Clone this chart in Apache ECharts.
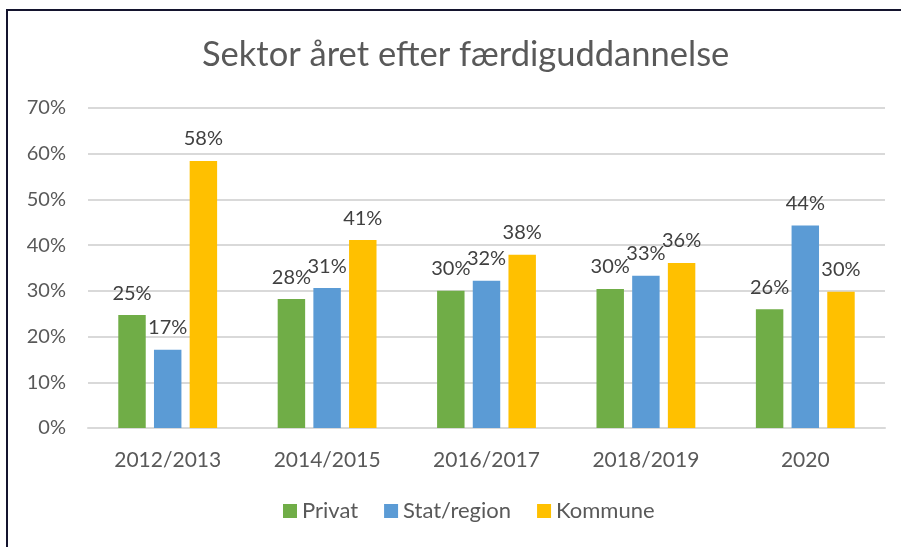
<!DOCTYPE html>
<html>
<head>
<meta charset="utf-8">
<script src="https://cdn.jsdelivr.net/npm/echarts@6/dist/echarts.min.js"></script>
<style>
html,body{margin:0;padding:0;background:#fff;}
#chart{position:absolute;left:0;top:0;width:901px;height:547px;}
#frame{position:absolute;left:6px;top:9px;width:895px;height:538px;border-top:2px solid #14142e;border-left:2px solid #14142e;pointer-events:none;box-sizing:border-box;}
</style>
</head>
<body>
<div id="chart"></div>
<div id="frame"></div>
<script>
const title = 'Sektor året efter færdiguddannelse';
const categories = ['2012/2013', '2014/2015', '2016/2017', '2018/2019', '2020'];
const seriesNames = ['Privat', 'Stat/region', 'Kommune'];
const privat = [24.7, 28.2, 30.0, 30.4, 26.0];
const statRegion = [17.1, 30.6, 32.2, 33.3, 44.3];
const kommune = [58.4, 41.1, 37.9, 36.1, 29.8];
const colors = ['#70AD47', '#5B9BD5', '#FFC000'];

const FONT = 'Lato';
const chart = echarts.init(document.getElementById('chart'));
const mk = (name, data, color) => ({
  name, type: 'bar', data,
  itemStyle: { color },
  barGap: '30%', barCategoryGap: '38%',
  label: {
    show: true, position: 'top', distance: 12,
    color: '#404040', fontFamily: FONT, fontSize: 20,
    formatter: p => Math.round(p.value) + '%'
  }
});
chart.setOption({
  animation: false,
  title: {
    text: title, left: 197, top: 32,
    textStyle: { fontFamily: FONT, fontSize: 34.5, fontWeight: 'normal', color: '#595959' }
  },
  legend: {
    data: seriesNames, bottom: 20, left: 278,
    icon: 'rect', itemWidth: 14, itemHeight: 14, itemGap: 26,
    textStyle: { fontFamily: FONT, fontSize: 22, color: '#595959' }
  },
  grid: { left: 88, right: 16, top: 108, bottom: 119, containLabel: false },
  xAxis: {
    type: 'category', data: categories,
    axisLine: { lineStyle: { color: '#D9D9D9', width: 2 } },
    axisTick: { show: false },
    axisLabel: { fontFamily: FONT, fontSize: 21, color: '#595959', margin: 22 }
  },
  yAxis: {
    type: 'value', min: 0, max: 70, interval: 10,
    axisLine: { show: false }, axisTick: { show: false },
    axisLabel: { formatter: '{value}%', fontFamily: FONT, fontSize: 20, color: '#595959', margin: 22 },
    splitLine: { lineStyle: { color: '#D9D9D9', width: 2 } }
  },
  series: [
    mk(seriesNames[0], privat, colors[0]),
    mk(seriesNames[1], statRegion, colors[1]),
    mk(seriesNames[2], kommune, colors[2])
  ]
});
</script>
</body>
</html>
